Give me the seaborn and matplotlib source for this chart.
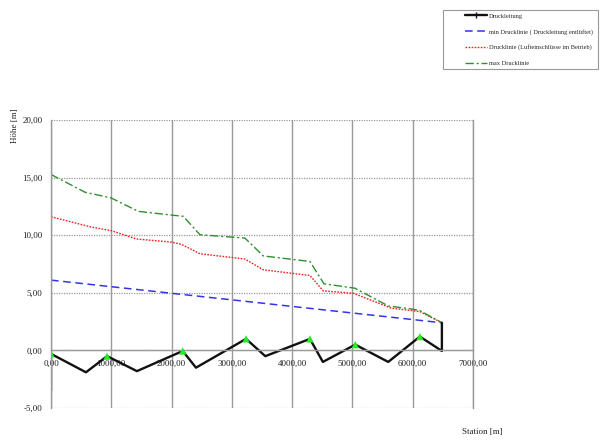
import matplotlib
matplotlib.use("Agg")
import matplotlib.pyplot as plt
import matplotlib.ticker as mticker
from matplotlib.lines import Line2D
from matplotlib.patches import Rectangle
import seaborn as sns

# Rohrleitungsprofil (Station [m], Höhe [m])
leitung_station = [0, 0, 580, 930, 1425, 2185, 2405, 3235, 3555, 4295, 4510, 5047, 5594, 6119, 6484, 6484]
leitung_hoehe = [-3.5, -0.3, -1.9, -0.5, -1.8, -0.05, -1.5, 1.0, -0.5, 1.0, -1.0, 0.5, -1.0, 1.2, -0.05, 2.4]

# Hochpunkte (Entlüftungen)
hochpunkt_station = [0, 930, 2185, 3235, 4295, 5047, 6119]
hochpunkt_hoehe = [-0.3, -0.5, -0.05, 1.0, 1.0, 0.5, 1.2]

# min Drucklinie (Druckleitung entlüftet)
min_station = [0, 6484]
min_hoehe = [6.1, 2.4]

# Drucklinie (Lufteinschlüsse im Betrieb)
dl_station = [0, 675, 995, 1420, 2000, 2167, 2471, 3217, 3521, 4295, 4516, 5013, 5650, 6119, 6484]
dl_hoehe = [11.6, 10.7, 10.4, 9.67, 9.4, 9.2, 8.39, 7.93, 7.0, 6.5, 5.17, 4.96, 3.66, 3.37, 2.4]

# max Drucklinie
max_station = [0, 564, 995, 1448, 2028, 2194, 2471, 3217, 3521, 4295, 4527, 5041, 5594, 6009, 6119, 6484]
max_hoehe = [15.27, 13.73, 13.24, 12.07, 11.73, 11.64, 10.04, 9.75, 8.2, 7.72, 5.78, 5.4, 3.86, 3.57, 3.45, 2.4]

labels = ["Druckleitung",
          "min Drucklinie ( Druckleitung entlüftet)",
          "Drucklinie (Lufteinschlüsse im Betrieb)",
          "max Drucklinie"]

sns.set_style("white")
plt.rcParams["font.family"] = ["Liberation Serif", "DejaVu Serif"]

fig = plt.figure(figsize=(6.0, 4.4), dpi=100)
ax = fig.add_axes([51 / 600, 1 - 408 / 440, 422 / 600, 288 / 440])

grid_col = "#9a9a9a"
black = "#111111"
blue = "#3333ee"
red = "#ee2222"
green = "#2f8f2f"

sns.lineplot(x=min_station, y=min_hoehe, sort=False, ax=ax, color=blue,
             lw=1.1, linestyle=(0, (5, 3)), estimator=None)
sns.lineplot(x=dl_station, y=dl_hoehe, sort=False, ax=ax, color=red,
             lw=1.0, linestyle=(0, (1.2, 1.0)), estimator=None)
sns.lineplot(x=max_station, y=max_hoehe, sort=False, ax=ax, color=green,
             lw=1.0, linestyle=(0, (6, 2, 1.5, 2)), estimator=None)
sns.lineplot(x=leitung_station, y=leitung_hoehe, sort=False, ax=ax, color=black,
             lw=1.7, estimator=None)
sns.scatterplot(x=hochpunkt_station, y=hochpunkt_hoehe, ax=ax, marker="^",
                color="#22ee22", s=28, edgecolor="none", zorder=5)

ax.set_xlim(0, 7000)
ax.set_ylim(-5, 20)

fmt = mticker.FuncFormatter(lambda v, p: f"{v:.2f}".replace(".", ","))
ax.xaxis.set_major_locator(mticker.MultipleLocator(1000))
ax.xaxis.set_minor_locator(mticker.MultipleLocator(200))
ax.yaxis.set_major_locator(mticker.MultipleLocator(5))
ax.yaxis.set_minor_locator(mticker.MultipleLocator(1))
ax.xaxis.set_major_formatter(fmt)
ax.yaxis.set_major_formatter(fmt)

ax.spines["bottom"].set_position(("data", 0))
for side in ["bottom", "left", "right"]:
    ax.spines[side].set_color(grid_col)
    ax.spines[side].set_linewidth(1.0)
ax.spines["top"].set_visible(False)

ax.set_axisbelow(True)
ax.xaxis.grid(True, color=grid_col, lw=1.0, linestyle="-")
ax.yaxis.grid(True, color=grid_col, lw=0.9, linestyle=(0, (1, 1)))

ax.tick_params(axis="both", which="major", labelsize=6.5, colors="#222222",
               length=3, width=0.8, color=grid_col)
ax.tick_params(axis="x", which="major", direction="out", pad=4)
ax.tick_params(axis="y", which="major", direction="out", pad=3)
ax.tick_params(axis="both", which="minor", length=2.5, width=0.7, color="#777777",
               direction="out")
ax.tick_params(axis="y", which="minor", direction="in")

ax.set_xlabel("Station [m]", fontsize=6.5)
ax.xaxis.set_label_coords((482 - 51) / 422, (408 - 428) / 288)
ax.set_ylabel("Höhe [m]", fontsize=6.5)
ax.yaxis.set_label_coords((19 - 51) / 422, (408 - 126) / 288)

# Legende in einem Rahmen oben rechts
fig.patches.append(Rectangle((443 / 600, 1 - 69 / 440), 155 / 600, 59 / 440,
                             transform=fig.transFigure, fill=False,
                             edgecolor="#999999", lw=0.8))
handles = [
    Line2D([], [], color=black, lw=1.7, marker="|", markersize=4),
    Line2D([], [], color=blue, lw=1.1, linestyle=(0, (5, 3))),
    Line2D([], [], color=red, lw=1.0, linestyle=(0, (1.2, 1.0))),
    Line2D([], [], color=green, lw=1.0, linestyle=(0, (6, 2, 1.5, 2))),
]
fig.legend(handles, labels, loc="upper left",
           bbox_to_anchor=(463 / 600, 1 - 11 / 440), frameon=False,
           fontsize=4.6, handlelength=3.4, handletextpad=0.3,
           labelspacing=1.55, borderpad=0.35, borderaxespad=0)

fig.savefig("out.png", dpi=100, facecolor="white")
